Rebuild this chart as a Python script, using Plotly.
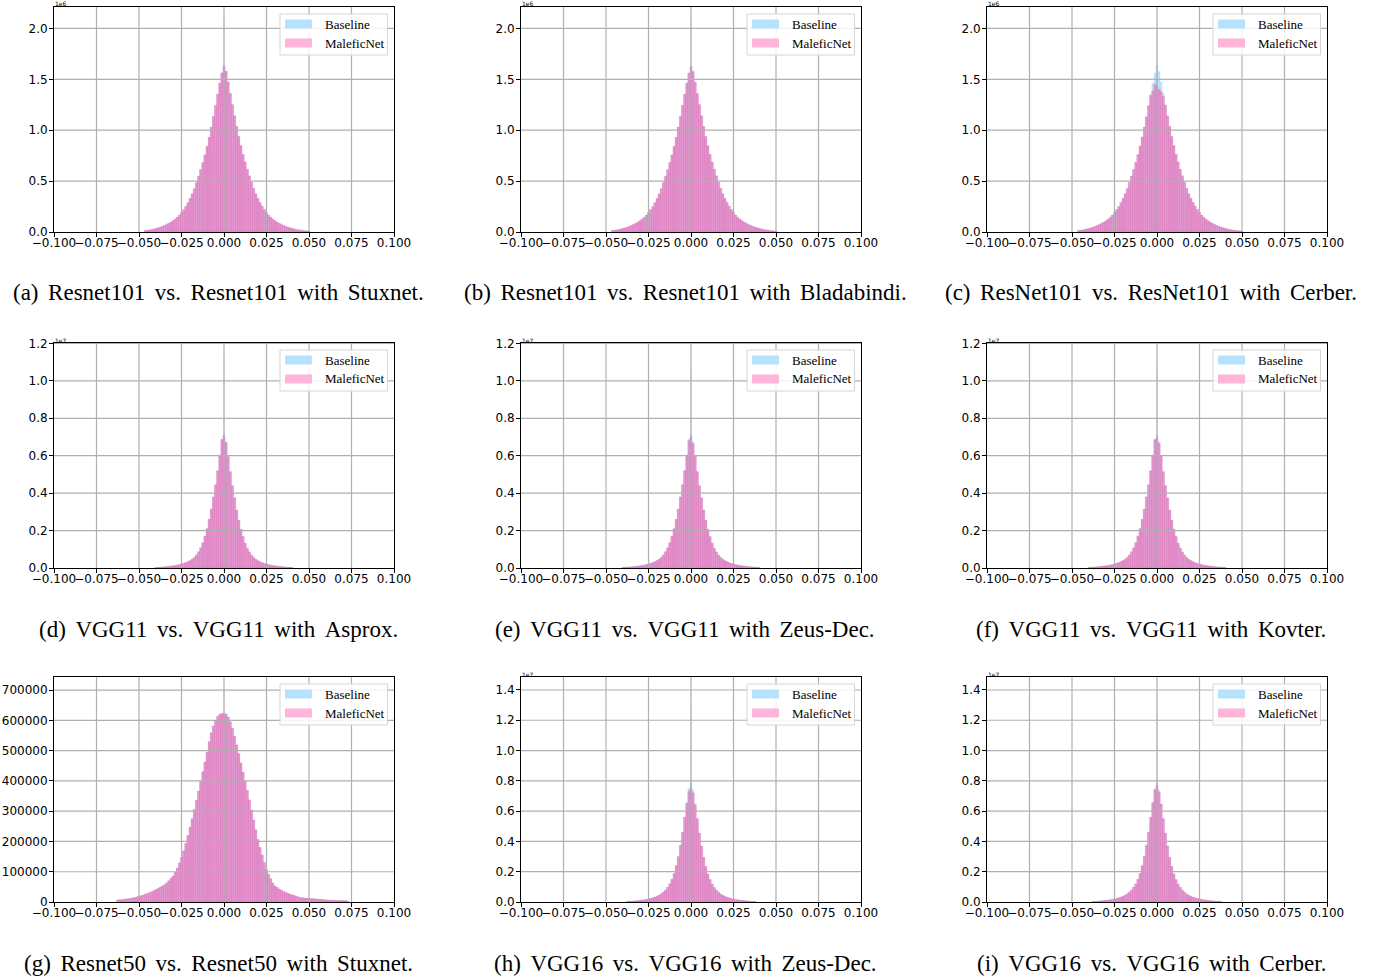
import plotly.graph_objects as go

W, H = 1382, 976
BIN = 0.00125        # histogram bin width
SPIKE_W = 0.0003     # width of the bin holding exactly-zero weights

# ---------------- data (counts in thousands) ----------------
# ResNet101: bin centres start at r101_first, step BIN
r101_first = -0.04625
r101_baseline = [15, 18, 21, 25, 30, 35, 41, 48, 56, 65, 75, 86, 98, 112, 128, 146, 167, 191, 219, 250,
                 288, 330, 375, 425, 485, 548, 612, 682, 758, 842, 930, 1030, 1135, 1245, 1355, 1465, 1565,
                 1635,
                 1580, 1475, 1362, 1252, 1142, 1038, 938, 848, 762, 688, 616, 552, 488, 428, 376, 331, 290, 253,
                 221, 192, 167, 146, 128, 112, 98, 86, 75, 65, 57, 49, 42, 36, 31, 26, 22, 19, 16, 13, 11, 9]
r101_stuxnet = [15, 18, 21, 25, 30, 35, 41, 48, 56, 65, 75, 86, 98, 112, 128, 146, 167, 191, 219, 251,
                288, 330, 376, 425, 486, 548, 613, 682, 758, 842, 931, 1030, 1134, 1244, 1354, 1463, 1562,
                1628,
                1578, 1474, 1361, 1251, 1142, 1038, 938, 848, 762, 688, 616, 552, 488, 428, 376, 331, 290, 253,
                221, 192, 167, 146, 128, 112, 98, 86, 75, 65, 57, 49, 42, 36, 31, 26, 22, 19, 16, 13, 11, 9]
r101_bladabindi = [15, 18, 21, 25, 30, 35, 41, 48, 56, 65, 75, 86, 98, 112, 128, 146, 167, 191, 219, 250,
                   288, 330, 375, 426, 485, 549, 612, 683, 758, 843, 930, 1031, 1134, 1244, 1353, 1462, 1560,
                   1622,
                   1575, 1472, 1361, 1251, 1142, 1038, 938, 848, 762, 688, 616, 552, 488, 428, 376, 331, 290, 253,
                   221, 192, 167, 146, 128, 112, 98, 86, 75, 65, 57, 49, 42, 36, 31, 26, 22, 19, 16, 13, 11, 9]
r101_cerber = [15, 18, 21, 25, 30, 35, 41, 48, 56, 65, 75, 86, 98, 112, 128, 146, 167, 191, 219, 251,
               289, 331, 376, 426, 486, 550, 614, 684, 760, 844, 932, 1030, 1130, 1240, 1340, 1385, 1450,
               1430,
               1400, 1375, 1330, 1245, 1140, 1038, 938, 848, 762, 688, 616, 552, 488, 428, 376, 331, 290, 253,
               221, 192, 167, 146, 128, 112, 98, 86, 75, 65, 57, 49, 42, 36, 31, 26, 22, 19, 16, 13, 11, 9]
r101_spike_baseline = 2105
r101_spike_stuxnet = 2070
r101_spike_bladabindi = 2065
r101_spike_cerber = 1990

# VGG11
vgg11_first = -0.04
vgg11_baseline = [37, 43, 50, 58, 67, 78, 90, 104, 120, 138, 160, 185, 215, 250, 290, 340, 400, 470, 570, 700,
                  870, 1080, 1350, 1700, 2100, 2600, 3150, 3800, 4450, 5200, 6050, 6900,
                  7150,
                  6750, 6000, 5150, 4400, 3750, 3100, 2560, 2070, 1680, 1330, 1060, 860, 690, 565, 465, 395,
                  335, 285, 245, 212, 182, 157, 136, 118, 102, 88, 76, 66, 57, 49, 42, 36]
vgg11_asprox = [37, 43, 50, 58, 67, 78, 90, 104, 120, 138, 160, 185, 215, 250, 290, 340, 400, 470, 570, 700,
                870, 1080, 1350, 1700, 2100, 2600, 3150, 3800, 4450, 5200, 6000, 6850,
                7050,
                6700, 5950, 5150, 4400, 3750, 3100, 2560, 2070, 1680, 1330, 1060, 860, 690, 565, 465, 395,
                335, 285, 245, 212, 182, 157, 136, 118, 102, 88, 76, 66, 57, 49, 42, 36]
vgg11_zeusdec = [37, 43, 50, 58, 67, 78, 90, 104, 120, 138, 160, 185, 215, 250, 290, 340, 400, 470, 570, 700,
                 870, 1080, 1350, 1700, 2100, 2600, 3150, 3800, 4450, 5200, 6020, 6800,
                 7000,
                 6650, 5980, 5150, 4400, 3750, 3100, 2560, 2070, 1680, 1330, 1060, 860, 690, 565, 465, 395,
                 335, 285, 245, 212, 182, 157, 136, 118, 102, 88, 76, 66, 57, 49, 42, 36]
vgg11_kovter = [37, 43, 50, 58, 67, 78, 90, 104, 120, 138, 160, 185, 215, 250, 290, 340, 400, 470, 570, 700,
                870, 1080, 1350, 1700, 2100, 2600, 3150, 3800, 4450, 5200, 6000, 6850,
                6950,
                6650, 5980, 5150, 4400, 3750, 3100, 2560, 2070, 1680, 1330, 1060, 860, 690, 565, 465, 395,
                335, 285, 245, 212, 182, 157, 136, 118, 102, 88, 76, 66, 57, 49, 42, 36]
vgg11_spike_baseline = 11450
vgg11_spike_asprox = 10800
vgg11_spike_zeusdec = 10600
vgg11_spike_kovter = 10700

# ResNet50
r50_first = -0.0625
r50_baseline = [7, 7.5, 8, 9, 10, 11, 12, 13.5, 15, 17, 19, 21, 23, 26, 28, 31, 34, 38, 41, 45,
                49, 53, 57, 63, 70, 78, 86, 98, 113, 130, 148, 170, 194, 220, 248, 276, 306, 337, 367, 399,
                431, 463, 495, 530, 560, 582, 600, 614, 621, 624,
                625,
                622, 612, 596, 575, 549, 520, 491, 460, 430, 400, 369, 338, 305, 272, 239, 207, 181, 156, 131, 108,
                92, 77, 63, 53, 48, 43, 39, 35, 32, 29, 26, 24, 22, 19, 17, 15, 14, 13, 12.5, 12,
                11.5, 11, 10.5, 10, 9, 8.5, 8, 7, 6.5, 6, 6, 5.5, 5.5, 5, 5, 5, 4.5, 4]
r50_stuxnet = [7, 7.5, 8, 9, 10, 11, 12, 13.5, 15, 17, 19, 21, 23, 26, 28, 31, 34, 38, 41, 45,
               49, 53, 57, 63, 70, 78, 86, 98, 112, 129, 147, 169, 193, 219, 247, 275, 305, 336, 366, 398,
               430, 462, 494, 529, 559, 581, 599, 613, 620, 623,
               620,
               621, 611, 595, 574, 548, 519, 490, 459, 429, 399, 368, 337, 304, 271, 238, 206, 180, 155, 130, 107,
               92, 77, 63, 53, 48, 43, 39, 35, 32, 29, 26, 24, 22, 19, 17, 15, 14, 13, 12.5, 12,
               11.5, 11, 10.5, 10, 9, 8.5, 8, 7, 6.5, 6, 6, 5.5, 5.5, 5, 5, 5, 4.5, 4]
r50_spike_baseline = 708
r50_spike_stuxnet = 700

# VGG16
vgg16_first = -0.0375
vgg16_baseline = [42, 50, 60, 70, 82, 95, 110, 128, 150, 175, 205, 240, 280, 325, 380, 450, 540, 660, 800, 980,
                  1200, 1500, 1880, 2400, 3000, 3750, 4600, 5600, 6600, 7500,
                  7950,
                  7400, 6500, 5500, 4550, 3700, 2950, 2350, 1850, 1480, 1180, 960, 785, 650, 530, 445,
                  375, 320, 275, 236, 202, 172, 148, 127, 109, 94, 81, 69, 59, 50, 42]
vgg16_zeusdec = [42, 50, 60, 70, 82, 95, 110, 128, 150, 175, 205, 240, 280, 325, 380, 450, 540, 660, 800, 980,
                 1200, 1500, 1880, 2400, 3000, 3750, 4600, 5600, 6500, 7300,
                 7550,
                 7200, 6400, 5500, 4550, 3700, 2950, 2350, 1850, 1480, 1180, 960, 785, 650, 530, 445,
                 375, 320, 275, 236, 202, 172, 148, 127, 109, 94, 81, 69, 59, 50, 42]
vgg16_cerber = [42, 50, 60, 70, 82, 95, 110, 128, 150, 175, 205, 240, 280, 325, 380, 450, 540, 660, 800, 980,
                1200, 1500, 1880, 2400, 3000, 3750, 4600, 5600, 6550, 7400,
                7700,
                7250, 6450, 5500, 4550, 3700, 2950, 2350, 1850, 1480, 1180, 960, 785, 650, 530, 445,
                375, 320, 275, 236, 202, 172, 148, 127, 109, 94, 81, 69, 59, 50, 42]
vgg16_spike_baseline = 14150
vgg16_spike_zeusdec = 12900
vgg16_spike_cerber = 12400

# tick labels
x_tickvals = [-0.1, -0.075, -0.05, -0.025, 0.0, 0.025, 0.05, 0.075, 0.1]
x_ticktext = ["\u22120.100", "\u22120.075", "\u22120.050", "\u22120.025", "0.000", "0.025", "0.050", "0.075", "0.100"]
y_r101_vals = [0, 0.5e6, 1.0e6, 1.5e6, 2.0e6]
y_r101_text = ["0.0", "0.5", "1.0", "1.5", "2.0"]
y_vgg11_vals = [0, 0.2e7, 0.4e7, 0.6e7, 0.8e7, 1.0e7, 1.2e7]
y_vgg11_text = ["0.0", "0.2", "0.4", "0.6", "0.8", "1.0", "1.2"]
y_r50_vals = [0, 100000, 200000, 300000, 400000, 500000, 600000, 700000]
y_r50_text = ["0", "100000", "200000", "300000", "400000", "500000", "600000", "700000"]
y_vgg16_vals = [0, 0.2e7, 0.4e7, 0.6e7, 0.8e7, 1.0e7, 1.2e7, 1.4e7]
y_vgg16_text = ["0.0", "0.2", "0.4", "0.6", "0.8", "1.0", "1.2", "1.4"]

captions = [
    "(a) Resnet101 vs. Resnet101 with Stuxnet.",
    "(b) Resnet101 vs. Resnet101 with Bladabindi.",
    "(c) ResNet101 vs. ResNet101 with Cerber.",
    "(d) VGG11 vs. VGG11 with Asprox.",
    "(e) VGG11 vs. VGG11 with Zeus-Dec.",
    "(f) VGG11 vs. VGG11 with Kovter.",
    "(g) Resnet50 vs. Resnet50 with Stuxnet.",
    "(h) VGG16 vs. VGG16 with Zeus-Dec.",
    "(i) VGG16 vs. VGG16 with Cerber.",
]

panels = [
    (r101_first, r101_baseline, r101_stuxnet, r101_spike_baseline, r101_spike_stuxnet, y_r101_vals, y_r101_text, "1e6"),
    (r101_first, r101_baseline, r101_bladabindi, r101_spike_baseline, r101_spike_bladabindi, y_r101_vals, y_r101_text, "1e6"),
    (r101_first, r101_baseline, r101_cerber, r101_spike_baseline, r101_spike_cerber, y_r101_vals, y_r101_text, "1e6"),
    (vgg11_first, vgg11_baseline, vgg11_asprox, vgg11_spike_baseline, vgg11_spike_asprox, y_vgg11_vals, y_vgg11_text, "1e7"),
    (vgg11_first, vgg11_baseline, vgg11_zeusdec, vgg11_spike_baseline, vgg11_spike_zeusdec, y_vgg11_vals, y_vgg11_text, "1e7"),
    (vgg11_first, vgg11_baseline, vgg11_kovter, vgg11_spike_baseline, vgg11_spike_kovter, y_vgg11_vals, y_vgg11_text, "1e7"),
    (r50_first, r50_baseline, r50_stuxnet, r50_spike_baseline, r50_spike_stuxnet, y_r50_vals, y_r50_text, None),
    (vgg16_first, vgg16_baseline, vgg16_zeusdec, vgg16_spike_baseline, vgg16_spike_zeusdec, y_vgg16_vals, y_vgg16_text, "1e7"),
    (vgg16_first, vgg16_baseline, vgg16_cerber, vgg16_spike_baseline, vgg16_spike_cerber, y_vgg16_vals, y_vgg16_text, "1e7"),
]

# ---------------- style / layout ----------------
BLUE = "rgba(135,206,250,0.6)"
PINK = "rgba(255,105,180,0.6)"
SEAM = "rgba(220,70,160,0.35)"
BLUE_SW = "#B7E2FD"
PINK_SW = "#FFB4DA"
GRID = "#b0b0b0"
COL_LEFT = [54, 521, 987]
ROW_TOP = [7, 343, 677]
AX_W, AX_H = 340, 225
TICK_FONT = dict(family="DejaVu Sans", size=12, color="black")
SERIF = "Liberation Serif"
GAP = " \u2006"   # justified-looking word spacing of the captions


def px(x):
    return x / W


def py(y):
    return 1 - y / H


fig = go.Figure()
layout = dict(width=W, height=H, margin=dict(l=0, r=0, t=0, b=0, autoexpand=False),
              paper_bgcolor="white", plot_bgcolor="white", barmode="overlay",
              showlegend=False, shapes=[], annotations=[])

for i, (first, base, mal, sp_b, sp_m, yv, yt, offset) in enumerate(panels):
    n = i + 1
    xa = "x" if n == 1 else f"x{n}"
    ya = "y" if n == 1 else f"y{n}"
    row, col = divmod(i, 3)
    L, T = COL_LEFT[col], ROW_TOP[row]
    centers_b = [first + k * BIN for k in range(len(base))]
    centers_m = [first + k * BIN for k in range(len(mal))]
    fig.add_trace(go.Bar(x=centers_b, y=[v * 1000 for v in base], width=BIN,
                         marker=dict(color=BLUE, line=dict(width=0)),
                         name="Baseline", xaxis=xa, yaxis=ya))
    fig.add_trace(go.Bar(x=centers_m, y=[v * 1000 for v in mal], width=BIN,
                         marker=dict(color=PINK, line=dict(width=0.6, color=SEAM)),
                         name="MaleficNet", xaxis=xa, yaxis=ya))
    fig.add_trace(go.Bar(x=[0.0], y=[sp_b * 1000], width=SPIKE_W, marker=dict(color=BLUE, line=dict(width=0)),
                         name="Baseline", xaxis=xa, yaxis=ya))
    fig.add_trace(go.Bar(x=[0.0], y=[sp_m * 1000], width=SPIKE_W, marker=dict(color=PINK, line=dict(width=0)),
                         name="MaleficNet", xaxis=xa, yaxis=ya))
    ymax = 1.05 * max(sp_b, sp_m, max(base), max(mal)) * 1000
    axis_common = dict(showline=True, linecolor="black", linewidth=1, mirror=True, ticks="outside",
                       ticklen=4, tickwidth=1, tickcolor="black", tickfont=TICK_FONT, showgrid=False,
                       zeroline=False, fixedrange=True, automargin=False)
    layout["xaxis" if n == 1 else f"xaxis{n}"] = dict(
        domain=[px(L), px(L + AX_W)], range=[-0.1, 0.1], tickmode="array", tickvals=x_tickvals,
        ticktext=x_ticktext, tickangle=0, ticklabelstandoff=-4, anchor=ya, **axis_common)
    layout["yaxis" if n == 1 else f"yaxis{n}"] = dict(
        domain=[py(T + AX_H), py(T)], range=[0, ymax], tickmode="array", tickvals=yv, ticktext=yt,
        ticklabelstandoff=-1, anchor=xa, **axis_common)
    # grid lines drawn above the bars (matplotlib style)
    for xv in x_tickvals[1:-1]:
        layout["shapes"].append(dict(type="line", xref=xa, yref=f"{ya} domain", x0=xv, x1=xv, y0=0, y1=1,
                                     line=dict(color=GRID, width=1.2), layer="above"))
    for yvv in yv[1:]:
        if yvv < ymax:
            layout["shapes"].append(dict(type="line", xref=f"{xa} domain", yref=ya, x0=0, x1=1, y0=yvv, y1=yvv,
                                         line=dict(color=GRID, width=1.2), layer="above"))
    # legend (upper right)
    R = L + AX_W
    layout["shapes"].append(dict(type="rect", xref="paper", yref="paper", x0=px(R - 114), x1=px(R - 6.5),
                                 y0=py(T + 48), y1=py(T + 7), line=dict(color="#d6d6d6", width=1),
                                 fillcolor="rgba(255,255,255,0.85)", layer="above"))
    for j, (lab, sw) in enumerate([("Baseline", BLUE_SW), ("MaleficNet", PINK_SW)]):
        yc = T + 17 + j * 19
        layout["shapes"].append(dict(type="rect", xref="paper", yref="paper", x0=px(R - 109), x1=px(R - 82),
                                     y0=py(yc + 4.5), y1=py(yc - 4.5), line=dict(width=0), fillcolor=sw,
                                     layer="above"))
        layout["annotations"].append(dict(text=lab, xref="paper", yref="paper", x=px(R - 71), y=py(yc),
                                          xanchor="left", yanchor="middle", showarrow=False,
                                          font=dict(family=SERIF, size=13, color="black")))
    if offset:
        layout["annotations"].append(dict(text=offset, xref="paper", yref="paper", x=px(L), y=py(T - 3),
                                          xanchor="left", yanchor="middle", showarrow=False, borderpad=0,
                                          font=dict(family="DejaVu Sans", size=6, color="black")))
    layout["annotations"].append(dict(text=captions[i].replace(" ", GAP), xref="paper", yref="paper",
                                      x=px(L + AX_W / 2 - 6), y=py(T + AX_H + 61), xanchor="center",
                                      yanchor="middle", showarrow=False,
                                      font=dict(family=SERIF, size=23, color="black")))

fig.update_layout(**layout)
fig.write_html("out.html", config={"displayModeBar": False},
               post_script="document.body.style.margin='0';document.body.style.overflow='hidden';")
